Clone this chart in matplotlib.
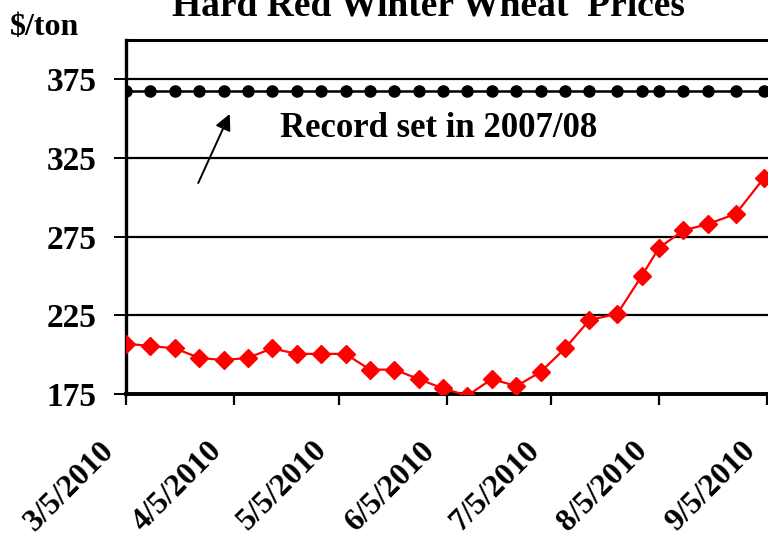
import matplotlib
matplotlib.use('Agg')
import matplotlib.pyplot as plt
import matplotlib.transforms as mtransforms
import pandas as pd

# ---------------- data ----------------
dates = ['2010-03-05', '2010-03-12', '2010-03-19', '2010-03-26', '2010-04-02',
         '2010-04-09', '2010-04-16', '2010-04-23', '2010-04-30', '2010-05-07',
         '2010-05-14', '2010-05-21', '2010-05-28', '2010-06-04', '2010-06-11',
         '2010-06-18', '2010-06-25', '2010-07-02', '2010-07-09', '2010-07-16',
         '2010-07-24', '2010-07-31', '2010-08-05', '2010-08-12', '2010-08-19',
         '2010-08-27', '2010-09-04']
prices = [207, 205.5, 204, 198, 196.5, 198, 204, 200.5, 200.5, 200.5,
          190.5, 190.5, 184.5, 178.5, 174, 184.5, 180, 189, 204, 222,
          226, 250, 268, 279, 283, 289.5, 312]
record_price = 367.5
tick_dates = ['2010-03-05', '2010-04-05', '2010-05-05', '2010-06-05',
              '2010-07-05', '2010-08-05', '2010-09-05']
tick_labels = ['3/5/2010', '4/5/2010', '5/5/2010', '6/5/2010',
               '7/5/2010', '8/5/2010', '9/5/2010']
yticks = [175, 225, 275, 325, 375]
title = 'Hard Red Winter Wheat  Prices'
ylabel = '$/ton'
note = 'Record set in 2007/08'

# ---------------- style ----------------
plt.rcParams['font.family'] = ['Liberation Serif', 'DejaVu Serif']
plt.rcParams['font.weight'] = 'bold'

W, H = 768, 540
fig = plt.figure(figsize=(W / 100, H / 100), dpi=100)
ax = fig.add_axes([126 / W, 1 - 394 / H, (772 - 126) / W, (394 - 40) / H])

x = pd.to_datetime(dates)
x0 = pd.Timestamp(tick_dates[0])

ax.yaxis.grid(True, color='black', lw=1.6, zorder=1)
ax.set_axisbelow(True)

ax.plot(x, [record_price] * len(x), color='black', lw=1.8, marker='o',
        ms=8, zorder=3)
ax.plot(x, prices, color='#ff0000', lw=1.6, marker='D', ms=9.5, zorder=4)

ax.set_ylim(175, 400)
ax.set_xlim(x0, x0 + pd.Timedelta(days=185.4))
ax.set_yticks(yticks)
ax.set_yticklabels([str(v) for v in yticks])
tick_pos = pd.to_datetime(tick_dates)
ax.set_xticks(tick_pos)
ax.set_xticklabels([])

for s in ['top', 'left', 'bottom']:
    ax.spines[s].set_color('black')
ax.spines['top'].set_linewidth(2.2)
ax.spines['left'].set_linewidth(2.4)
ax.spines['bottom'].set_linewidth(2.8)
ax.spines['right'].set_visible(False)

ax.tick_params(axis='y', length=9, width=1.4, pad=12, labelsize=24,
               colors='black')
ax.tick_params(axis='x', length=8, width=1.6, colors='black')

# rotated date labels placed under their ticks
base = mtransforms.blended_transform_factory(ax.transData, ax.transAxes)
offset = mtransforms.ScaledTranslation(-16 / 100, -52 / 100, fig.dpi_scale_trans)
for d, lab in zip(tick_pos, tick_labels):
    ax.text(d, 0, lab, transform=base + offset, rotation=45, ha='right',
            va='center', rotation_mode='anchor', fontsize=23,
            fontweight='bold', color='black', clip_on=False)

# annotation
ax.annotate('', xy=(x0 + pd.Timedelta(days=30.1), 354.6),
            xytext=(x0 + pd.Timedelta(days=20.4), 307.5),
            arrowprops=dict(arrowstyle='-|>', color='black', lw=1.4,
                            mutation_scale=24))
ax.text(x0 + pd.Timedelta(days=89.6), 343.5, note, ha='center', va='center',
        fontsize=25, fontweight='bold', color='black')

fig.text(428 / W, 1 - 15 / H, title, ha='center', va='baseline',
         fontsize=27, fontweight='bold')
fig.text(10 / W, 1 - 35 / H, ylabel, ha='left', va='baseline',
         fontsize=23, fontweight='bold')

fig.savefig('out.png', dpi=100)
